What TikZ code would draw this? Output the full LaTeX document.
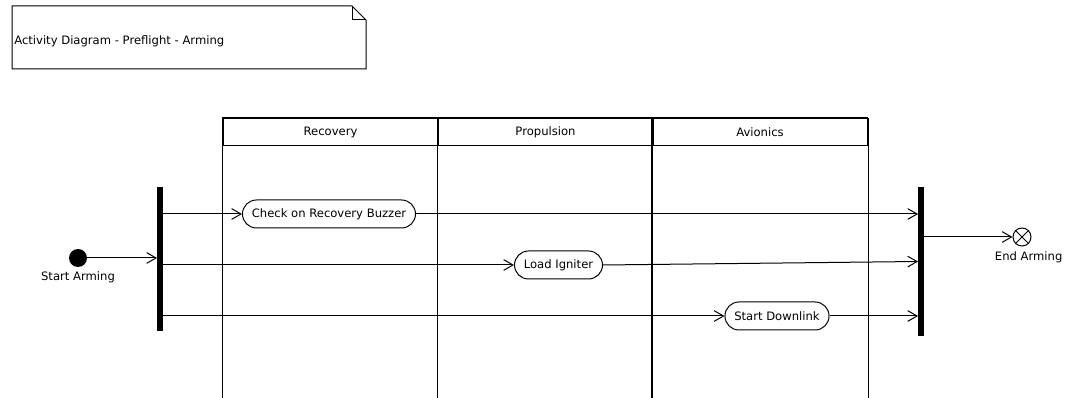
\documentclass[tikz,border=0pt]{standalone}
\usepackage{fontspec}
\setmainfont{DejaVu Sans}
\usetikzlibrary{positioning, arrows.meta}

\begin{document}
\begin{tikzpicture}[
    x=0.75pt, y=-0.75pt,
    uml/.style={font=\fontsize{8.7pt}{10pt}\selectfont},
    lane/.style={draw, line width=1pt, minimum width=161.25pt, minimum height=20.25pt, inner sep=0pt, uml},
    action/.style={draw, line width=0.75pt, rounded corners=10.5pt, minimum height=21pt, inner xsep=7pt, inner ysep=0pt, uml},
    bar/.style={fill=black, draw=none, minimum width=4pt, inner sep=0pt},
    pointer/.style={line width=0.75pt, -{Straight Barb[length=7pt, width=8pt, line width=0.75pt]}},
    labelfont/.style={uml}
]
\useasboundingbox (0,0) rectangle (1065,398);

% Note
\draw[line width=0.75pt] (12,6) -- (352,6) -- (366,20) -- (366,69) -- (12,69) -- cycle;
\draw[line width=0.75pt] (352,6) -- (352,20) -- (366,20);
\node[labelfont, anchor=west, inner sep=0pt] (title) at (14,41) {Activity Diagram - Preflight - Arming};

% Swimlanes
\foreach \x/\name/\lbl in {330.5/rec/Recovery, 545.5/prop/Propulsion, 760/avio/Avionics} {
    \node[lane, anchor=north] (\name) at (\x,118) {\lbl};
}
\draw[line width=1pt] (rec.north west) -- (avio.north east);
\foreach \name in {rec, prop, avio} {
    \draw[line width=1pt] (\name.north west) -- (\name.south west) -- (\name.south west |- 0,398);
}
\draw[line width=1pt] (avio.north east) -- (avio.south east |- 0,398);

% Start, fork and join
\node[circle, fill=black, minimum size=13.5pt, inner sep=0pt] (start) at (78,258) {};
\node[labelfont, below=0pt of start] (startlbl) {Start Arming};
\node[bar, minimum height=108pt] (fork) at (160,259) {};
\node[bar, minimum height=112pt] (join) at (921,261.5) {};

% Actions
\node[action] (buzzer) at (329,214) {Check on Recovery Buzzer};
\node[action] (igniter) at (558.5,265) {Load Igniter};
\node[action] (downlink) at (777,316) {Start Downlink};

% End
\node[circle, draw, line width=0.75pt, minimum size=13.5pt, inner sep=0pt] (finish) at (1022,237) {};
\draw[line width=0.75pt] (finish.45) -- (finish.225) (finish.135) -- (finish.315);
\node[labelfont, below=0pt of finish, xshift=5pt] (finishlbl) {End Arming};

% Flows
\draw[pointer] (start) -- (fork.west |- start);
\draw[pointer] (fork.east |- buzzer) -- (buzzer.west);
\draw[pointer] (fork.east |- igniter) -- (igniter.west);
\draw[pointer] (fork.east |- downlink) -- (downlink.west);
\draw[pointer] (buzzer.east) -- (join.west |- buzzer);
\draw[pointer] (igniter.east) -- (join.west);
\draw[pointer] (downlink.east) -- (join.west |- downlink);
\draw[pointer] (join.east |- finish) -- (finish.west);

\end{tikzpicture}
\end{document}
